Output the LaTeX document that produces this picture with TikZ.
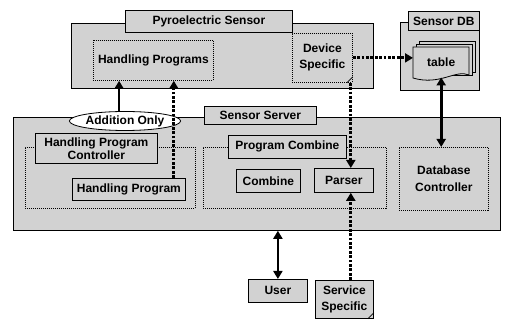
\documentclass[tikz,border=0pt]{standalone}
\usepackage{fontspec}
\setmainfont{Liberation Sans}
\usepackage{tikz}
\usetikzlibrary{arrows.meta,shapes.geometric}

\tikzset{
  panel/.style={draw, fill=gray!35, line width=0.8pt, anchor=north west, inner sep=0pt,
    align=center, font=\fontsize{12}{14}\selectfont\bfseries},
  dotpanel/.style={panel, dash pattern=on 1pt off 1pt},
  link/.style={line width=2.8pt, -{Triangle[length=8pt, width=9pt]}},
  dotlink/.style={link, dash pattern=on 2.8pt off 1.6pt},
  twolink/.style={line width=2.8pt, {Triangle[length=8pt, width=9pt]}-{Triangle[length=8pt, width=9pt]}},
  fold/.style={line width=0.8pt}
}

\begin{document}
\begin{tikzpicture}[x=1pt, y=-1pt]
\useasboundingbox (0,0) rectangle (512,320);

% Sensor side
\node[panel, minimum width=302pt, minimum height=65pt] (pyro) at (71,23) {};
\node[panel, minimum width=167pt, minimum height=22pt] (pyrotab) at (125,10) {Pyroelectric Sensor};
\node[dotpanel, minimum width=120pt, minimum height=40pt] (hprogs) at (93,40) {Handling Programs};
\node[dotpanel, minimum width=60pt, minimum height=49pt] (devspec) at (292,33) {Device\\[2pt]Specific};
\draw[fold] ([xshift=-6pt]devspec.south east) -- ([yshift=6pt]devspec.south east);

% Sensor DB with its stack of tables
\node[panel, minimum width=79pt, minimum height=68pt] (db) at (400,22) {};
\node[panel, minimum width=71pt, minimum height=19pt] (dbtab) at (408,11) {Sensor DB};
\filldraw[fill=gray!35, line width=0.8pt] (419,41) rectangle (475,72);
\filldraw[fill=gray!35, line width=0.8pt] (416,44) rectangle (472,75);
\filldraw[fill=gray!35, line width=0.8pt] (413,47) -- (469,47) -- (469,75)
  .. controls (456,69) and (440,86) .. (413,78) -- cycle;
\node[inner sep=0pt, minimum width=56pt, minimum height=30pt, anchor=north west,
  font=\fontsize{12}{14}\selectfont\bfseries] (table) at (413,47) {table};

% Sensor Server
\node[panel, minimum width=487pt, minimum height=113pt] (server) at (13,117) {};
\node[panel, minimum width=112pt, minimum height=18pt] (servtab) at (204,106) {Sensor Server};
\node[dotpanel, minimum width=170pt, minimum height=61pt] (hpc) at (25,147) {};
\node[panel, minimum width=122pt, minimum height=30pt, font=\fontsize{12}{13}\selectfont\bfseries]
  (hpctab) at (35,133) {Handling Program\\Controller};
\node[panel, minimum width=113pt, minimum height=22pt] (hprog) at (72,178) {Handling Program};
\node[dotpanel, minimum width=183pt, minimum height=61pt] (pcomb) at (203,147) {};
\node[panel, minimum width=118pt, minimum height=23pt] (pcombtab) at (228,135) {Program Combine};
\node[panel, minimum width=64pt, minimum height=23pt] (combine) at (236,169) {Combine};
\node[panel, minimum width=59pt, minimum height=24pt] (parser) at (314,168) {Parser};
\node[dotpanel, minimum width=89pt, minimum height=63pt] (dbctl) at (399,147) {Database\\[3pt]Controller};

% Outside the server
\node[panel, minimum width=59pt, minimum height=23pt] (user) at (248,279) {User};
\node[panel, minimum width=58pt, minimum height=38pt] (servspec) at (315,280) {Service\\[2pt]Specific};
\draw[fold] ([xshift=-6pt]servspec.south east) -- ([yshift=6pt]servspec.south east);

\node[ellipse, draw, fill=white, line width=0.8pt, inner sep=0pt, minimum width=92pt,
  minimum height=19pt, font=\fontsize{12}{14}\selectfont\bfseries] (addonly) at (125,121) {Addition Only};

% Connectors
\coordinate (hpup) at ([xshift=-12pt]hprog.north east);
\coordinate (devout) at ([xshift=-2pt]devspec.south east);
\draw[link] (addonly.121) -- (addonly.121 |- hprogs.south);
\draw[dotlink] (hpup) -- (hpup |- hprogs.south);
\draw[dotlink] (devspec.east) -- (devspec.east -| table.west);
\draw[dotlink] (devout) -- (devout |- parser.north);
\draw[dotlink] (servspec.north -| devout) -- (devout |- parser.south);
\draw[twolink] (table.south) -- (table.south |- dbctl.north);
\draw[twolink] (user.north |- server.south) -- (user.north);

\end{tikzpicture}
\end{document}
